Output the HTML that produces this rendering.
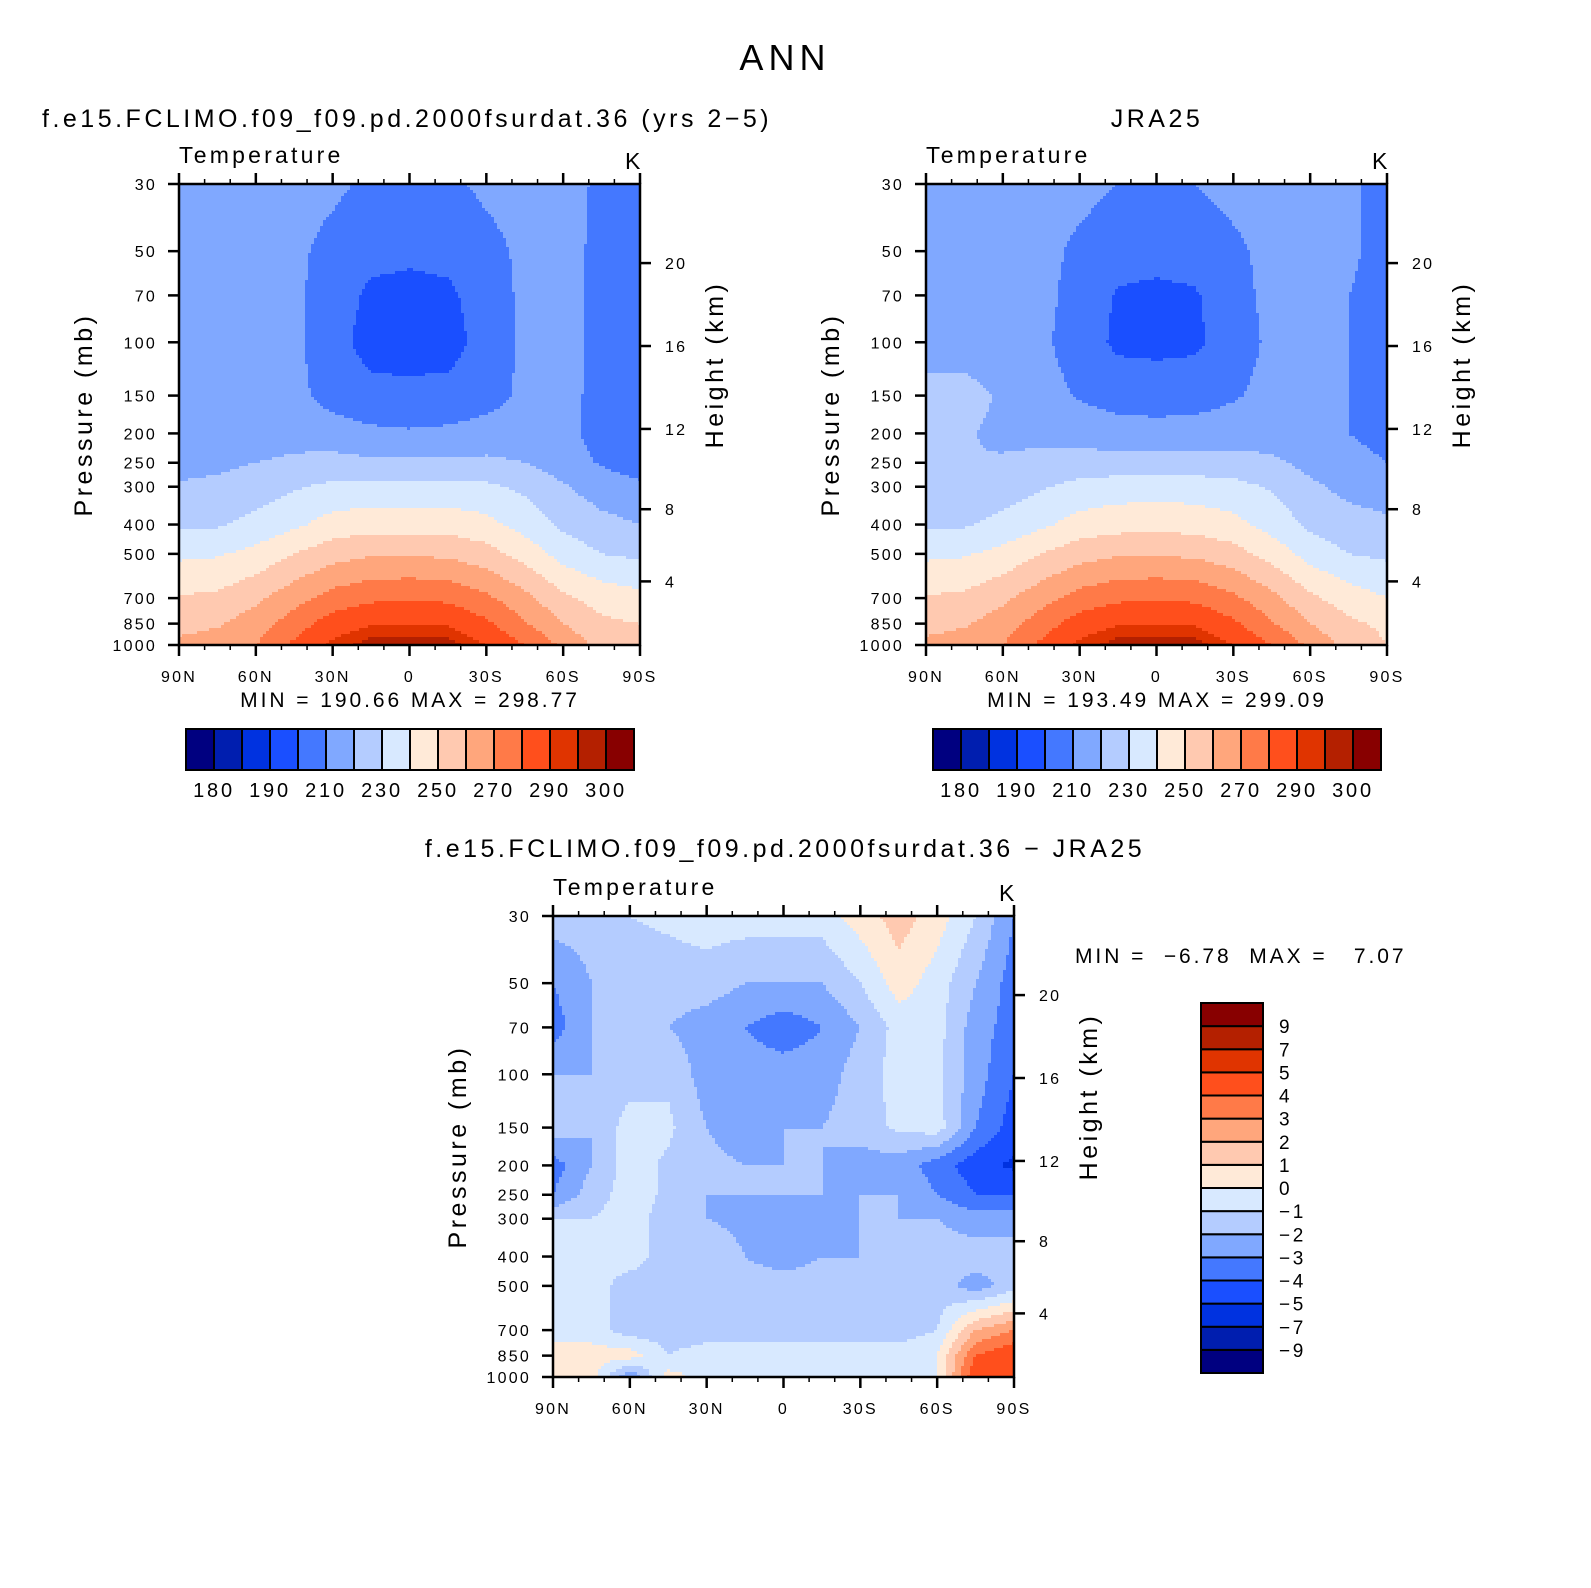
<!DOCTYPE html>
<html><head><meta charset="utf-8">
<style>
html,body{margin:0;padding:0;background:#fff;overflow:hidden;width:1591px;height:1588px;}
svg{position:absolute;left:0;top:0;display:block;font-family:"Liberation Sans","DejaVu Sans",sans-serif;}
text{letter-spacing:0.14em;}
</style></head>
<body>
<svg id="fig" width="1591" height="1588" viewBox="0 0 1591 1588" xmlns="http://www.w3.org/2000/svg">
<text x="785" y="70" font-size="36" text-anchor="middle">ANN</text>
<text x="42" y="127" font-size="25">f.e15.FCLIMO.f09_f09.pd.2000fsurdat.36 (yrs 2−5)</text>
<text x="1157" y="127" font-size="25" text-anchor="middle">JRA25</text>
<text x="785" y="857" font-size="25" text-anchor="middle">f.e15.FCLIMO.f09_f09.pd.2000fsurdat.36 − JRA25</text>
</svg>
<script>
// ---- data ----
const lats = [90,75,60,45,30,15,0,-15,-30,-45,-60,-75,-90];
const levs = [1000,850,700,500,400,300,250,200,150,100,70,50,30];
const pTicks = [1000,850,700,500,400,300,250,200,150,100,70,50,30];
const latTickLabels = ["90N","60N","30N","0","30S","60S","90S"];
const hTicks = [4,8,12,16,20];
const tempLevels = [180,185,190,200,210,220,230,240,250,260,270,280,290,295,300];
const tempLabels = ["180","190","210","230","250","270","290","300"];
const diffLevels = [-9,-7,-5,-4,-3,-2,-1,0,1,2,3,4,5,7,9];
const diffLabels = ["−9","−7","−5","−4","−3","−2","−1","0","1","2","3","4","5","7","9"];
const colors = ["#000080","#001eaf","#0032e0","#1a4fff","#4478ff","#80a8ff","#b4ccff","#d8e9ff","#ffead8","#ffc9b0","#ffa67c","#ff7a48","#ff4f1c","#e03400","#b42000","#880000"];
// model temperature rows by level (1000 → 30 mb), columns 90N → 90S
const modelT = [
[262,264,270,282,292,298,299,298,290,280,268,256,252],
[257,259,265,275,285,289,290,289,282,271,260,252,250],
[251,252,258,266,274,278,279,278,272,263,252,246,243],
[238,239,243,250,256,259,259,258,254,246,236,230,228],
[228,229,233,238,244,246,246,246,243,236,228,223,220],
[221,222,225,229,232,233,233,233,232,228,221,215,212],
[217,218,220,222,223,222,222,222,222,220,215,209,205],
[214,214,215,216,215,212,211,212,214,214,213,206,202],
[214,219,214,213,206,203,203,203,206,212,213,207,204],
[214,214,214,212,204,196,195,196,204,212,214,207,204],
[215,215,214,212,205,198,197,198,205,212,214,207,205],
[215,215,214,212,207,203,202,203,207,212,214,207,205],
[215,215,215,214,212,208,207,208,212,214,214,208,205]];
const jraT = [
[262,264,270,282,292,298,299,298,290,280,268,256,250],
[257,259,265,275,285,289,290,289,282,271,260,252,248],
[251,252,258,266,274,278,279,278,272,263,252,245,240],
[238,239,243,250,256,259,259,258,254,246,236,230,228],
[228,229,233,238,244,246,247,246,243,236,228,224,222],
[222,222,225,229,233,235,235,235,233,229,222,217,215],
[220,220,221,223,224,224,224,224,224,222,217,212,210],
[221,221,218,217,216,214,213,214,215,215,214,210,208],
[222,223,219,214,209,206,206,206,209,213,213,210,208],
[217,216,214,212,205,198,197,198,205,212,214,210,208],
[216,216,215,213,206,199,198,199,206,213,215,210,208],
[216,216,215,213,208,204,203,204,208,213,215,211,208],
[216,216,216,214,213,210,209,210,213,215,215,211,208]];
const diffT = [
[0.5,0.5,-3,0.5,-0.5,-0.5,-0.5,-0.5,-0.5,-0.5,0,5,5],
[0.5,0.5,0.5,-1,-0.5,-0.5,-0.5,-0.5,-0.5,-0.5,0,4,5],
[-0.5,-0.5,-1.5,-1.5,-1.5,-1.5,-1.5,-1.5,-1.5,-1.5,-1,2,3],
[-0.5,-0.5,-1.5,-1.5,-1.5,-1.5,-1.5,-1.5,-1.5,-1.5,-1.5,-2.5,-1.5],
[-0.5,-0.7,-0.5,-1.5,-1.5,-2,-2.5,-2,-2,-1.5,-1.5,-1.5,-1.5],
[-1,-1,-0.5,-1.5,-2,-2.2,-2.2,-2.2,-2,-2,-2,-2.5,-2.5],
[-3,-1.5,-0.5,-1.2,-2,-2,-2,-2,-2,-2,-3,-4,-4],
[-3.5,-2,-0.5,-1.2,-1.5,-2,-2,-2,-2.5,-2.5,-3.5,-4.6,-5.2],
[-1.5,-2,-0.5,-0.8,-2,-3,-2,-2,-1.5,-0.8,-0.5,-3,-4.5],
[-2,-2,-1.5,-1.2,-2.5,-2.5,-2.5,-2.5,-1.5,-0.6,-0.8,-2.5,-4],
[-3.5,-2,-2,-2,-2.5,-3,-3.6,-3,-2,-0.6,-0.6,-2.5,-3.5],
[-3,-2,-1.5,-1.5,-1.5,-2,-2,-2,-1,0.5,-0.5,-2,-3.5],
[-1.5,-1.5,-1,-0.8,-0.5,-0.5,-0.5,-0.5,0.5,1.5,0.5,-1,-3]];

// ---- helpers ----
const NS="http://www.w3.org/2000/svg";
const svg=document.getElementById('fig');
function mk(tag,attrs,parent){const e=document.createElementNS(NS,tag);for(const k in attrs)e.setAttribute(k,attrs[k]);(parent||svg).appendChild(e);return e;}
const W=461,H=461,lnTop=Math.log(1000/30);
function yOfP(p){return H*(1-Math.log(1000/p)/lnTop);}
function xOfLat(lat){return W*(90-lat)/180;}
function pOfZ(z){const m=z*1000;return m<=11000?1013.25*Math.pow(1-2.25577e-5*m,5.25588):226.32*Math.exp(-(m-11000)/6341.6);}
function colorIdx(v,lv){let i=0;while(i<lv.length&&v>=lv[i])i++;return i;}
const lpl=levs.map(p=>Math.log(1000/p));
function sample(grid,lat,lp){
  let fi=(90-lat)/15; fi=Math.max(0,Math.min(12-1e-9,fi)); const i=Math.floor(fi),tx=fi-i;
  let j=0; while(j<11&&lp>lpl[j+1])j++;
  const ty=Math.max(0,Math.min(1,(lp-lpl[j])/(lpl[j+1]-lpl[j])));
  const a=grid[j][i]*(1-tx)+grid[j][i+1]*tx, b=grid[j+1][i]*(1-tx)+grid[j+1][i+1]*tx;
  return a*(1-ty)+b*ty;
}
function panel(name,ox,oy,grid,lv){
  const g=mk('g',{transform:`translate(${ox},${oy})`});
  
  
  const step=3;
  for(let py=0;py<H;py+=step){
    const hh=Math.min(step,H-py);
    const yc=py+hh/2; const lp=(H-yc)/H*lnTop;
    let runStart=0,runC=-1;
    for(let px=0;;px+=step){
      const end=px>=W;
      let c=-2;
      if(!end){const lat=90-(Math.min(px+step/2,W))/W*180;c=colorIdx(sample(grid,lat,lp),lv);}
      if(c!==runC||end){
        if(runC>=0){const xe=Math.min(px,W);const r=mk('rect',{x:runStart,y:py,width:xe-runStart+0.6,height:hh+0.6,fill:colors[runC]},g);
          
          }
        runStart=px;runC=c;
      }
      if(end)break;
    }
  }
  mk('rect',{x:0,y:0,width:W,height:H,fill:'none',stroke:'#000','stroke-width':2.5},g);
  for(let lat=90;lat>=-90;lat-=10){
    const x=xOfLat(lat),maj=lat%30===0,L=maj?11:5;
    mk('line',{x1:x,y1:H,x2:x,y2:H+L,stroke:'#000','stroke-width':maj?2.5:1.5},g);
    mk('line',{x1:x,y1:0,x2:x,y2:-L,stroke:'#000','stroke-width':maj?2.5:1.5},g);
  }
  latTickLabels.forEach((t,k)=>{const tx=mk('text',{x:xOfLat(90-30*k),y:H+37,'font-size':16,'text-anchor':'middle'},g);tx.textContent=t;
    });
  pTicks.forEach(p=>{const y=yOfP(p);mk('line',{x1:-11,y1:y,x2:0,y2:y,stroke:'#000','stroke-width':2.5},g);
    const tx=mk('text',{x:-22,y:y+6,'font-size':16,'text-anchor':'end'},g);tx.textContent=p;
    });
  hTicks.forEach(z=>{const y=yOfP(pOfZ(z));mk('line',{x1:W,y1:y,x2:W+11,y2:y,stroke:'#000','stroke-width':2.5},g);
    const tx=mk('text',{x:W+25,y:y+6,'font-size':16},g);tx.textContent=z;
    });
  let t=mk('text',{x:0,y:-21,'font-size':23},g);t.textContent='Temperature';
  
  t=mk('text',{x:W-15,y:-15,'font-size':23},g);t.textContent='K';
  
  t=mk('text',{transform:`translate(-87,${H/2}) rotate(-90)`,'font-size':25,'text-anchor':'middle'},g);t.textContent='Pressure (mb)';
  
  t=mk('text',{transform:`translate(${W+83},${H/2-50}) rotate(-90)`,'font-size':25,'text-anchor':'middle'},g);t.textContent='Height (km)';
  
  return g;
}
function hbar(name,x0,y0,w,h){
  const n=colors.length,bw=w/n;
  colors.forEach((c,k)=>{const r=mk('rect',{x:x0+k*bw,y:y0,width:bw,height:h,fill:c,stroke:'#000','stroke-width':2});
    });
  tempLabels.forEach((t,k)=>{const idx=[0,2,4,6,8,10,12,14][k];const tx=mk('text',{x:x0+(idx+1)*bw,y:y0+68,'font-size':20,'text-anchor':'middle'});tx.textContent=t;
    });
}
panel('model',179,184,modelT,tempLevels);
panel('jra',926,184,jraT,tempLevels);
panel('diff',553,916,diffT,diffLevels);
let t=mk('text',{x:410,y:707,'font-size':21,'text-anchor':'middle'});t.textContent='MIN = 190.66  MAX = 298.77';

t=mk('text',{x:1157,y:707,'font-size':21,'text-anchor':'middle'});t.textContent='MIN = 193.49  MAX = 299.09';

t=mk('text',{x:1075,y:963,'font-size':21});t.textContent='MIN =  −6.78  MAX =   7.07';

t.setAttribute('xml:space','preserve');
t.style.whiteSpace='pre';
hbar('model-colorbar',186,729,448,41);
hbar('jra-colorbar',933,729,448,41);
(function(){const x0=1201,y0=1003,w=62,h=370,n=colors.length,bh=h/n;
  colors.forEach((c,k)=>{const r=mk('rect',{x:x0,y:y0+(n-1-k)*bh,width:w,height:bh,fill:c,stroke:'#000','stroke-width':2});
    });
  diffLabels.forEach((l,k)=>{const y=y0+(n-1-k)*bh;const tx=mk('text',{x:1279,y:y+7,'font-size':19},null);tx.textContent=l;
    });
})();
</script>
</body></html>
